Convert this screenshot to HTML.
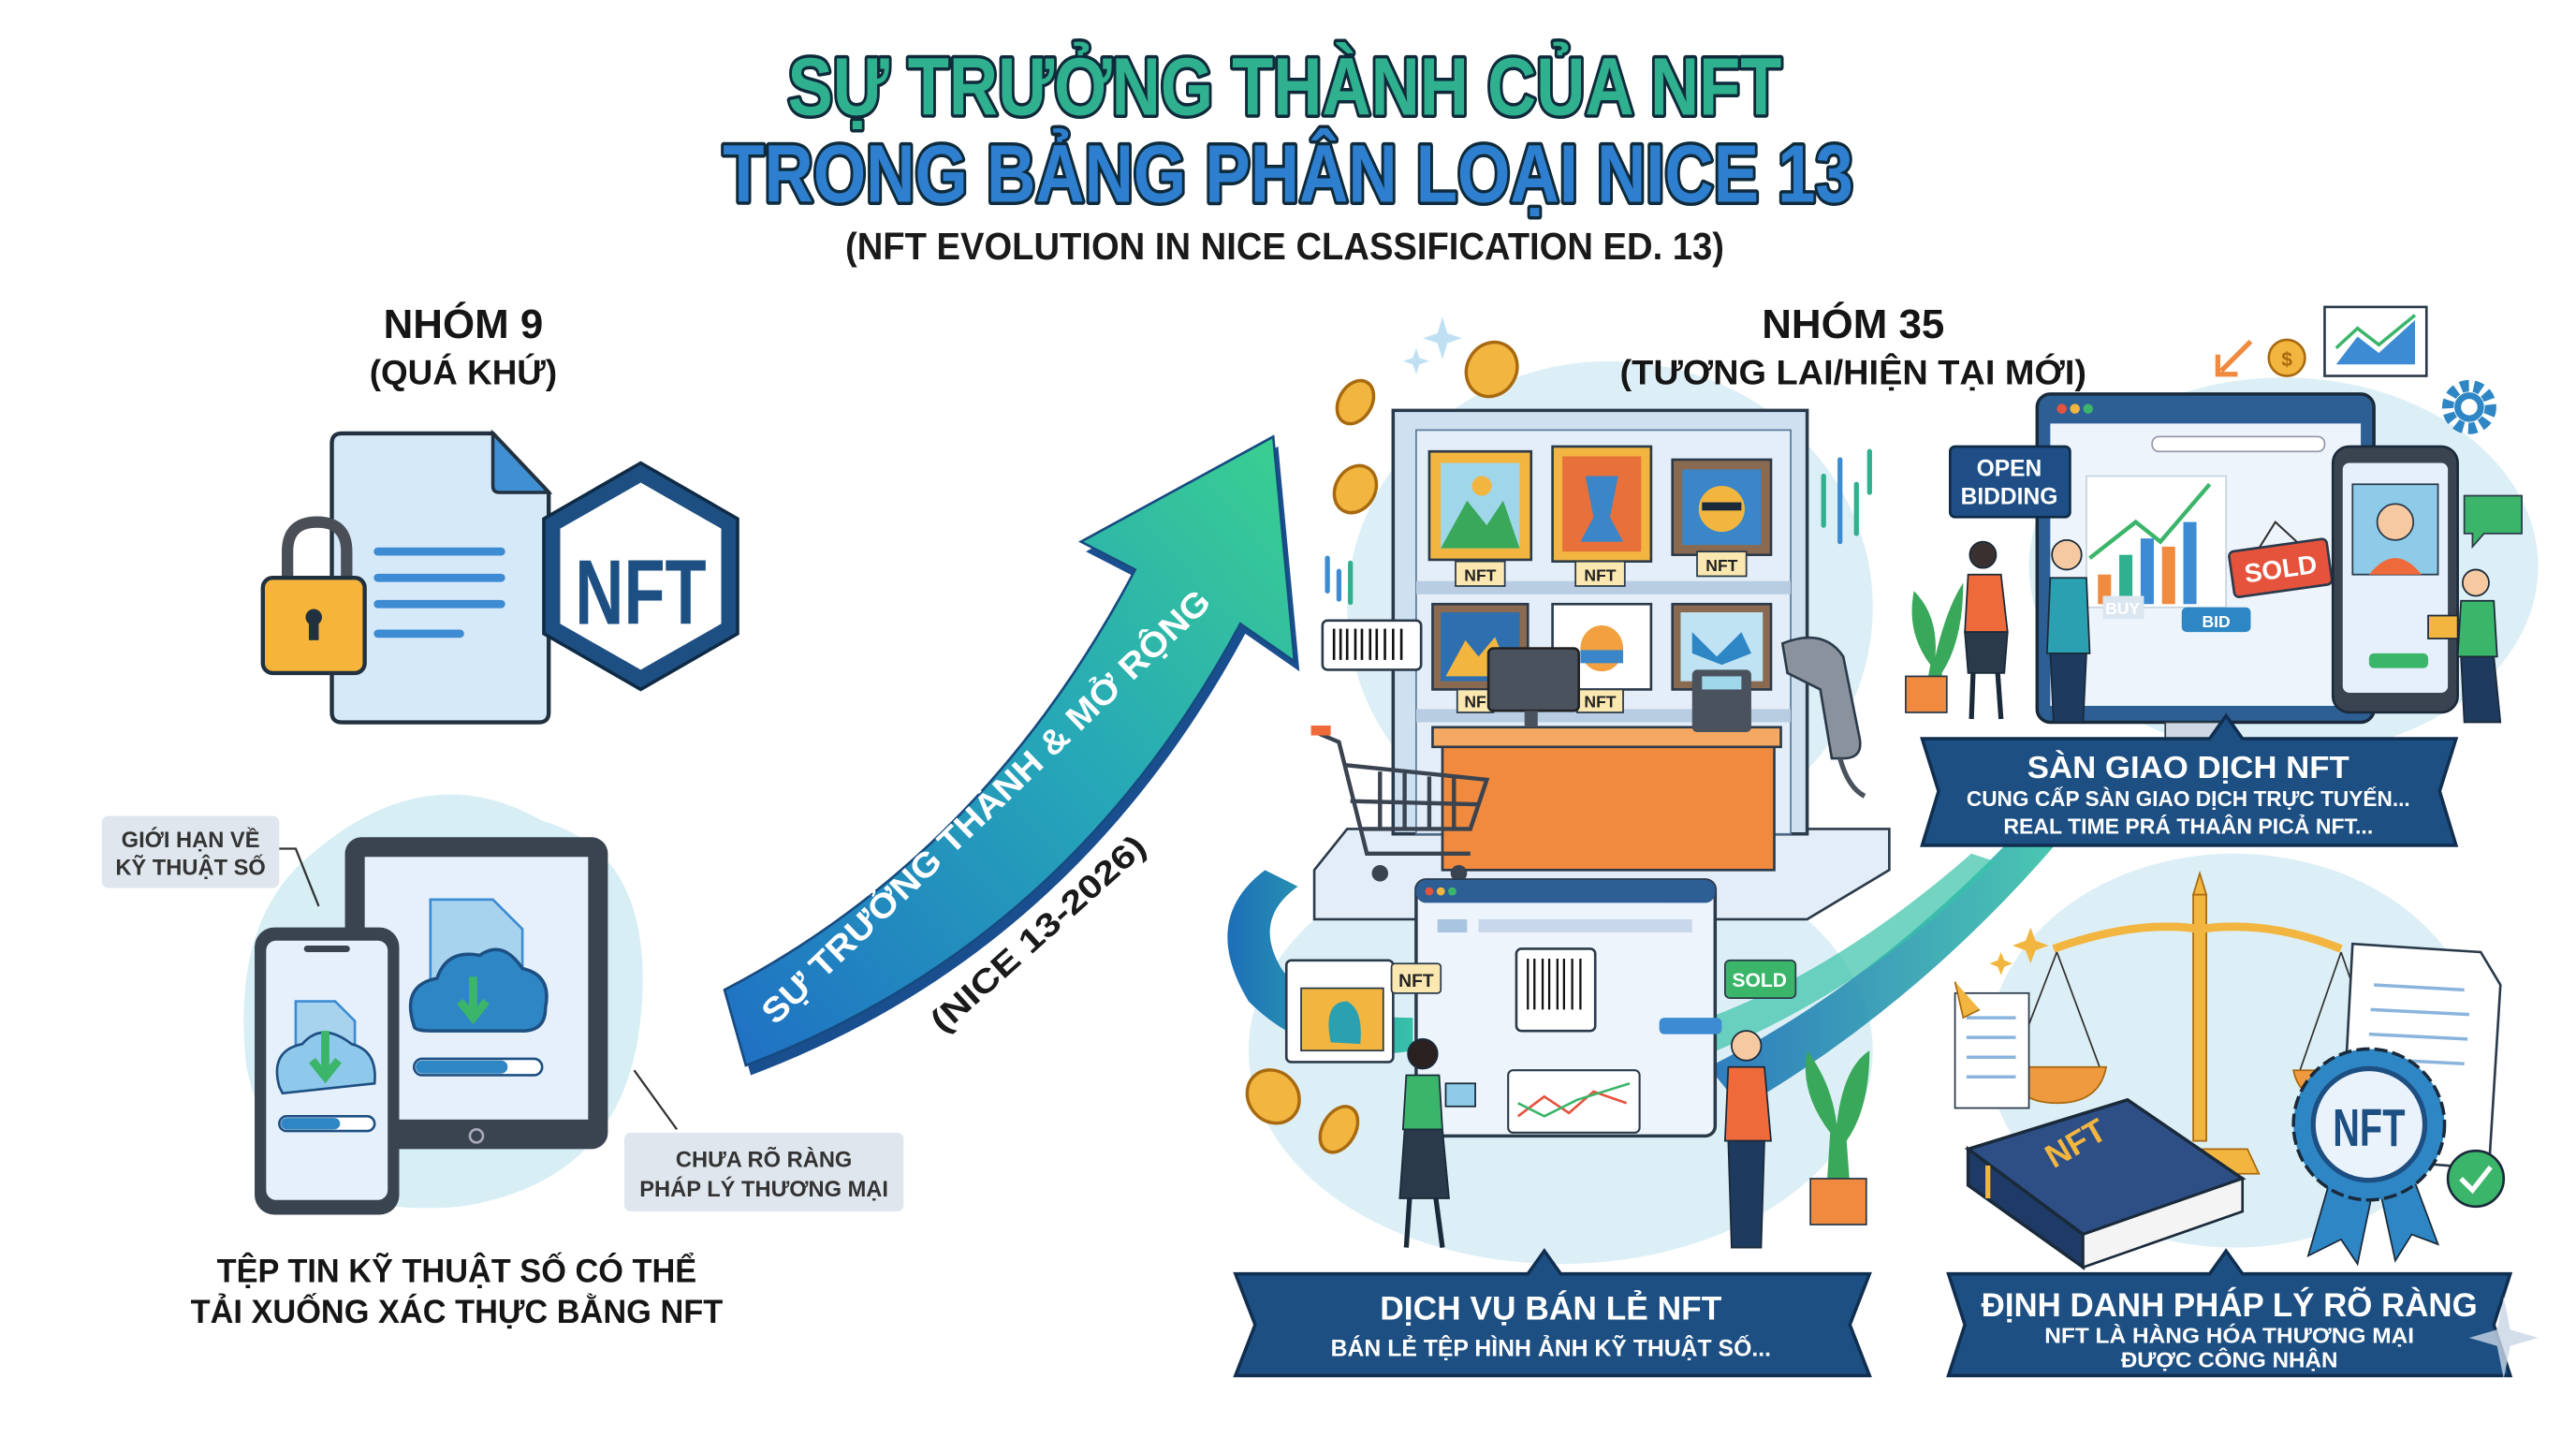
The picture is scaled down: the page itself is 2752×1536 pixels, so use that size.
<!DOCTYPE html>
<html><head><meta charset="utf-8"><style>
html,body{margin:0;padding:0;background:#fff;width:2752px;height:1536px;overflow:hidden}
svg{display:block}
text{font-family:"Liberation Sans","DejaVu Sans",sans-serif}
</style></head><body>
<svg width="2752" height="1536" viewBox="0 0 1568 876" preserveAspectRatio="none" xmlns="http://www.w3.org/2000/svg">
<defs>
<linearGradient id="ag" x1="0" y1="1" x2="1" y2="0"><stop offset="0" stop-color="#1f6fc4"/><stop offset="0.55" stop-color="#26a7b8"/><stop offset="1" stop-color="#3bd08f"/></linearGradient>
<linearGradient id="sw" x1="0" y1="0" x2="1" y2="0"><stop offset="0" stop-color="#1d6fb8"/><stop offset="1" stop-color="#37c2a8"/></linearGradient>
</defs>
<rect width="1568" height="876" fill="#fff"/>

<!-- TITLE -->
<g font-weight="bold" stroke="#0f2a3a" stroke-width="4" paint-order="stroke" stroke-linejoin="round">
<text x="782" y="70" text-anchor="middle" font-size="50" fill="#2fb08e" textLength="605" lengthAdjust="spacingAndGlyphs">SỰ TRƯỞNG THÀNH CỦA NFT</text>
<text x="784" y="123" text-anchor="middle" font-size="50" fill="#2e7fcf" textLength="688" lengthAdjust="spacingAndGlyphs">TRONG BẢNG PHÂN LOẠI NICE 13</text>
</g>
<text x="782" y="158" text-anchor="middle" font-size="23" font-weight="bold" fill="#1a1a1a" textLength="535" lengthAdjust="spacingAndGlyphs">(NFT EVOLUTION IN NICE CLASSIFICATION ED. 13)</text>

<!-- LEFT: NHOM 9 -->
<text x="282" y="206" text-anchor="middle" font-size="25" font-weight="bold" fill="#151515">NHÓM 9</text>
<text x="282" y="234" text-anchor="middle" font-size="21" font-weight="bold" fill="#151515">(QUÁ KHỨ)</text>

<!-- document -->
<path d="M208,264 L300,264 L334,300 L334,434 Q334,440 328,440 L208,440 Q202,440 202,434 L202,270 Q202,264 208,264Z" fill="#d6e9f8" stroke="#22313f" stroke-width="2.5"/>
<path d="M300,264 L300,296 Q300,300 304,300 L334,300Z" fill="#3f8fd2" stroke="#22313f" stroke-width="2"/>
<g stroke="#3d8bd3" stroke-width="5" stroke-linecap="round"><line x1="230" y1="336" x2="305" y2="336"/><line x1="230" y1="352" x2="305" y2="352"/><line x1="230" y1="368" x2="305" y2="368"/><line x1="230" y1="386" x2="280" y2="386"/></g>
<!-- lock -->
<path d="M175,352 L175,336 Q175,318 193,318 Q211,318 211,336 L211,352" fill="none" stroke="#4a4f57" stroke-width="7"/>
<rect x="160" y="352" width="62" height="58" rx="6" fill="#f6b53a" stroke="#22313f" stroke-width="2.5"/>
<circle cx="191" cy="376" r="5" fill="#22313f"/><rect x="188" y="378" width="6" height="12" fill="#22313f"/>
<!-- NFT hexagon -->
<polygon points="390,282 449,316 449,386 390,420 331,386 331,316" fill="#1d4f82" stroke="#0f2a44" stroke-width="2"/>
<polygon points="390,294 439,322 439,380 390,408 341,380 341,322" fill="#fff"/>
<text x="390" y="380" text-anchor="middle" font-size="56" font-weight="bold" fill="#1d4f82" textLength="80" lengthAdjust="spacingAndGlyphs">NFT</text>

<!-- blob & devices -->
<path d="M190,520 Q260,460 330,500 Q400,520 390,620 Q380,720 280,735 Q170,745 150,650 Q140,560 190,520Z" fill="#d6eef4"/>
<rect x="210" y="510" width="160" height="190" rx="10" fill="#3a4350"/>
<rect x="222" y="522" width="136" height="160" fill="#e5f0fb"/>
<circle cx="290" cy="692" r="4" fill="none" stroke="#aab" stroke-width="1.5"/>
<path d="M262,548 L300,548 L318,566 L318,610 L262,610Z" fill="#a8d3ef" stroke="#3d8bd3" stroke-width="1.5"/>
<path d="M252,625 Q244,600 266,596 Q272,578 292,582 Q306,572 318,590 Q336,594 332,614 Q332,628 318,628 L262,628 Q252,628 252,625Z" fill="#2e86c4" stroke="#1d4f82" stroke-width="2"/>
<path d="M288,595 L288,618 M280,610 L288,620 L296,610" stroke="#3bb56a" stroke-width="5" fill="none"/>
<rect x="252" y="645" width="78" height="10" rx="5" fill="#fff" stroke="#1d4f82" stroke-width="1.5"/><rect x="253" y="646" width="56" height="8" rx="4" fill="#2e86c4"/>
<rect x="155" y="565" width="88" height="175" rx="12" fill="#3a4350"/>
<rect x="162" y="573" width="74" height="158" rx="6" fill="#e5f0fb"/>
<rect x="185" y="576" width="28" height="4" rx="2" fill="#3a4350"/>
<path d="M180,610 L204,610 L216,622 L216,650 L180,650Z" fill="#a8d3ef" stroke="#3d8bd3" stroke-width="1.5"/>
<path d="M170,662 Q164,640 184,636 Q196,622 214,636 Q230,640 228,660 L172,666Z" fill="#8ec8ea" stroke="#1d4f82" stroke-width="1.5"/>
<path d="M198,628 L198,654 M190,646 L198,656 L206,646" stroke="#3bb56a" stroke-width="5" fill="none"/>
<rect x="170" y="680" width="58" height="9" rx="4.5" fill="#fff" stroke="#1d4f82" stroke-width="1.5"/><rect x="171" y="681" width="36" height="7" rx="3.5" fill="#2e86c4"/>

<!-- callouts -->
<rect x="62" y="497" width="108" height="44" rx="4" fill="#dfe6ee"/>
<text x="116" y="516" text-anchor="middle" font-size="13.5" font-weight="bold" fill="#333">GIỚI HẠN VỀ</text>
<text x="116" y="533" text-anchor="middle" font-size="13.5" font-weight="bold" fill="#333">KỸ THUẬT SỐ</text>
<path d="M170,517 L180,517 L194,552" stroke="#333" stroke-width="1.3" fill="none"/>
<rect x="380" y="690" width="170" height="48" rx="4" fill="#dfe6ee"/>
<text x="465" y="711" text-anchor="middle" font-size="13.5" font-weight="bold" fill="#333">CHƯA RÕ RÀNG</text>
<text x="465" y="729" text-anchor="middle" font-size="13.5" font-weight="bold" fill="#333">PHÁP LÝ THƯƠNG MẠI</text>
<line x1="386" y1="652" x2="412" y2="688" stroke="#333" stroke-width="1.3"/>
<text x="278" y="781" text-anchor="middle" font-size="20" font-weight="bold" fill="#151515" textLength="292" lengthAdjust="spacingAndGlyphs">TỆP TIN KỸ THUẬT SỐ CÓ THỂ</text>
<text x="278" y="806" text-anchor="middle" font-size="20" font-weight="bold" fill="#151515" textLength="324" lengthAdjust="spacingAndGlyphs">TẢI XUỐNG XÁC THỰC BẰNG NFT</text>

<!-- BIG ARROW -->
<path d="M454,649 Q650,575 755,380 L788,403 L775,266 L658,330 L691,347 Q600,520 441,603Z" fill="#1a4f8f" transform="translate(3,6)"/>
<path d="M454,649 Q650,575 755,380 L788,403 L775,266 L658,330 L691,347 Q600,520 441,603Z" fill="url(#ag)" stroke="#174a80" stroke-width="1.5"/>
<text x="0" y="0" font-size="21" font-weight="bold" fill="#fff" transform="translate(472,625) rotate(-44)" textLength="370" lengthAdjust="spacingAndGlyphs">SỰ TRƯỞNG THÀNH &amp; MỞ RỘNG</text>
<text x="0" y="0" font-size="20" font-weight="bold" fill="#1a1a1a" transform="translate(574,630) rotate(-42)" textLength="168" lengthAdjust="spacingAndGlyphs">(NICE 13-2026)</text>

<!-- blobs -->
<ellipse cx="980" cy="370" rx="160" ry="150" fill="#ddeff6"/>
<ellipse cx="1390" cy="345" rx="155" ry="115" fill="#ddeff6"/>
<ellipse cx="950" cy="640" rx="190" ry="130" fill="#ddeff6"/>
<ellipse cx="1360" cy="640" rx="150" ry="120" fill="#ddeff6"/>

<!-- RIGHT: NHOM 35 -->
<text x="1128" y="206" text-anchor="middle" font-size="25" font-weight="bold" fill="#151515">NHÓM 35</text>
<text x="1128" y="234" text-anchor="middle" font-size="21" font-weight="bold" fill="#151515" textLength="284" lengthAdjust="spacingAndGlyphs">(TƯƠNG LAI/HIỆN TẠI MỚI)</text>

<!-- swooshes -->
<path d="M770,530 Q730,560 760,610 Q800,650 860,640 L860,620 Q800,620 780,590 Q762,560 790,540Z" fill="url(#sw)"/>
<path d="M1040,650 Q1140,600 1230,505 L1255,510 Q1170,610 1060,675Z" fill="url(#sw)" opacity="0.9"/>
<path d="M1040,620 Q1120,590 1200,520 L1215,525 Q1140,600 1045,640Z" fill="#37c2a8" opacity="0.7"/>

<!-- platform -->
<path d="M820,505 L1150,505 L1150,530 L1100,560 L800,560 L800,530Z" fill="#e3edf7" stroke="#2b3a4a" stroke-width="1.5"/>
<!-- shelf -->
<rect x="848" y="250" width="252" height="258" fill="#cfe0f0" stroke="#2b3a4a" stroke-width="2"/>
<rect x="862" y="262" width="228" height="246" fill="#e4eef8" stroke="#5a7a9a" stroke-width="1"/>
<rect x="862" y="354" width="228" height="8" fill="#b8cde2"/>
<rect x="862" y="432" width="228" height="8" fill="#b8cde2"/>
<!-- frames row 1 -->
<rect x="870" y="275" width="62" height="66" fill="#f2b640" stroke="#2b3a4a" stroke-width="1.5"/>
<rect x="877" y="282" width="48" height="52" fill="#9fd6ea"/><path d="M877,334 L893,305 L905,320 L915,305 L925,334Z" fill="#3aa85a"/><circle cx="902" cy="296" r="6" fill="#f2b640"/>
<rect x="945" y="272" width="60" height="70" fill="#f2b640" stroke="#2b3a4a" stroke-width="1.5"/><rect x="951" y="278" width="48" height="58" fill="#e8703a"/><path d="M965,290 L985,290 L980,315 L988,330 L962,330 L970,315Z" fill="#3a86c8"/>
<rect x="1018" y="280" width="60" height="58" fill="#8a6a50" stroke="#2b3a4a" stroke-width="1.5"/><rect x="1024" y="286" width="48" height="46" fill="#3a86c8"/><circle cx="1048" cy="310" r="14" fill="#f2b640"/><rect x="1036" y="306" width="24" height="5" fill="#1a2a3a"/>
<g font-size="10" font-weight="bold" fill="#222" text-anchor="middle">
<rect x="886" y="342" width="30" height="15" fill="#fbe7b0" stroke="#2b3a4a"/><text x="901" y="354">NFT</text>
<rect x="959" y="342" width="30" height="15" fill="#fbe7b0" stroke="#2b3a4a"/><text x="974" y="354">NFT</text>
<rect x="1033" y="336" width="30" height="15" fill="#fbe7b0" stroke="#2b3a4a"/><text x="1048" y="348">NFT</text>
</g>
<!-- frames row 2 -->
<rect x="872" y="368" width="58" height="52" fill="#8a6a50" stroke="#2b3a4a" stroke-width="1.5"/><rect x="877" y="373" width="48" height="42" fill="#2e6fb0"/><path d="M880,412 L892,390 L900,400 L910,388 L920,412Z" fill="#f2b640"/>
<rect x="945" y="368" width="60" height="52" fill="#fff" stroke="#2b3a4a" stroke-width="1.5"/><ellipse cx="975" cy="395" rx="13" ry="14" fill="#f2a040"/><rect x="962" y="396" width="26" height="8" fill="#3a86c8"/>
<rect x="1018" y="368" width="60" height="52" fill="#8a6a50" stroke="#2b3a4a" stroke-width="1.5"/><rect x="1023" y="373" width="50" height="42" fill="#bfe3f2"/><path d="M1030,385 L1045,400 L1060,385 L1066,398 L1048,405 L1030,398Z" fill="#2e86c4"/>
<g font-size="10" font-weight="bold" fill="#222" text-anchor="middle"><rect x="887" y="420" width="22" height="14" fill="#fbe7b0" stroke="#2b3a4a"/><text x="898" y="431">NF</text><rect x="960" y="420" width="28" height="14" fill="#fbe7b0" stroke="#2b3a4a"/><text x="974" y="431">NFT</text></g>
<!-- counter -->
<rect x="872" y="443" width="212" height="12" fill="#f4a862" stroke="#2b3a4a" stroke-width="1.5"/>
<rect x="878" y="455" width="202" height="75" fill="#ef8a3e" stroke="#2b3a4a" stroke-width="1.5"/>
<rect x="906" y="395" width="55" height="38" rx="3" fill="#4a525e" stroke="#222" stroke-width="1.5"/><rect x="928" y="433" width="8" height="10" fill="#4a525e"/>
<rect x="1030" y="408" width="36" height="38" rx="3" fill="#4a525e"/><rect x="1036" y="412" width="24" height="8" fill="#9fd6ea"/>
<!-- scanner -->
<path d="M1085,392 Q1110,382 1122,400 L1132,450 Q1134,462 1122,462 L1115,462 L1108,420 L1088,410Z" fill="#8a929e" stroke="#2b3a4a" stroke-width="1.5"/>
<path d="M1120,462 Q1125,480 1135,485" fill="none" stroke="#4a525e" stroke-width="3"/>
<!-- barcode tag -->
<rect x="805" y="378" width="60" height="30" rx="3" fill="#fff" stroke="#2b3a4a" stroke-width="1.5"/>
<g stroke="#111" stroke-width="1.5"><line x1="812" y1="383" x2="812" y2="402"/><line x1="816" y1="383" x2="816" y2="402"/><line x1="820" y1="383" x2="820" y2="402"/><line x1="825" y1="383" x2="825" y2="402"/><line x1="829" y1="383" x2="829" y2="402"/><line x1="834" y1="383" x2="834" y2="402"/><line x1="838" y1="383" x2="838" y2="402"/><line x1="843" y1="383" x2="843" y2="402"/><line x1="848" y1="383" x2="848" y2="402"/><line x1="853" y1="383" x2="853" y2="402"/></g>
<!-- cart -->
<g fill="none" stroke="#3a4350" stroke-width="2.5"><path d="M803,447 L815,452 L832,520 L895,520"/><path d="M818,466 L905,475 L895,505 L828,505"/><line x1="840" y1="470" x2="840" y2="505"/><line x1="855" y1="471" x2="855" y2="505"/><line x1="870" y1="473" x2="870" y2="505"/><line x1="885" y1="474" x2="885" y2="505"/><line x1="822" y1="488" x2="900" y2="490"/></g>
<circle cx="840" cy="532" r="5" fill="#3a4350"/><circle cx="888" cy="532" r="5" fill="#3a4350"/><rect x="798" y="442" width="12" height="6" fill="#ef6a3a"/>
<!-- coins -->
<g fill="#f2b640" stroke="#a86a10" stroke-width="2">
<ellipse cx="908" cy="225" rx="15" ry="17" transform="rotate(30 908 225)"/><ellipse cx="825" cy="245" rx="10" ry="14" transform="rotate(30 825 245)"/><ellipse cx="825" cy="298" rx="12" ry="15" transform="rotate(30 825 298)"/><ellipse cx="775" cy="668" rx="15" ry="17" transform="rotate(-40 775 668)"/><ellipse cx="815" cy="688" rx="10" ry="15" transform="rotate(30 815 688)"/></g>
<path d="M878,193 L881,203 L890,206 L881,209 L878,219 L875,209 L866,206 L875,203Z" fill="#bfe0f2"/>
<path d="M862,212 L864,218 L870,220 L864,222 L862,228 L860,222 L854,220 L860,218Z" fill="#bfe0f2"/>
<g stroke-width="3" stroke-linecap="round"><line x1="808" y1="340" x2="808" y2="360" stroke="#3d8bd3"/><line x1="815" y1="348" x2="815" y2="365" stroke="#3d8bd3"/><line x1="822" y1="343" x2="822" y2="367" stroke="#2fb08e"/><line x1="1110" y1="290" x2="1110" y2="320" stroke="#2fb08e"/><line x1="1120" y1="280" x2="1120" y2="330" stroke="#3d8bd3"/><line x1="1130" y1="295" x2="1130" y2="325" stroke="#2fb08e"/><line x1="1138" y1="275" x2="1138" y2="300" stroke="#2fb08e"/></g>

<!-- MARKETPLACE -->
<rect x="1240" y="240" width="205" height="200" rx="8" fill="#2d5f95" stroke="#1a2a3a" stroke-width="2"/>
<rect x="1248" y="258" width="189" height="172" fill="#eef4fb"/>
<circle cx="1255" cy="249" r="3" fill="#e5533d"/><circle cx="1263" cy="249" r="3" fill="#f2b640"/><circle cx="1271" cy="249" r="3" fill="#3bb56a"/>
<rect x="1310" y="266" width="105" height="9" rx="4" fill="#fff" stroke="#99a"/>
<rect x="1318" y="440" width="40" height="22" fill="#cfd8e2" stroke="#2b3a4a"/><rect x="1300" y="460" width="80" height="8" rx="3" fill="#b8c4d0" stroke="#2b3a4a"/>
<rect x="1270" y="290" width="85" height="80" fill="#fff" stroke="#c8d4e0"/>
<g><rect x="1277" y="350" width="8" height="18" fill="#ef8a3e"/><rect x="1290" y="338" width="8" height="30" fill="#2fb08e"/><rect x="1303" y="328" width="8" height="40" fill="#3d8bd3"/><rect x="1316" y="333" width="8" height="35" fill="#ef8a3e"/><rect x="1329" y="318" width="8" height="50" fill="#3d8bd3"/></g>
<path d="M1272,340 L1300,318 L1315,330 L1345,295" fill="none" stroke="#3bb56a" stroke-width="2.5"/>
<rect x="1187" y="272" width="73" height="43" rx="3" fill="#1e4e85" stroke="#0f2a44" stroke-width="1.5"/>
<text x="1223" y="290" text-anchor="middle" font-size="14" font-weight="bold" fill="#fff">OPEN</text><text x="1223" y="307" text-anchor="middle" font-size="14" font-weight="bold" fill="#fff">BIDDING</text>
<g transform="rotate(-8 1388 345)"><rect x="1358" y="332" width="60" height="28" rx="3" fill="#e5533d" stroke="#2b3a4a" stroke-width="1.5"/><text x="1388" y="352" text-anchor="middle" font-size="16" font-weight="bold" fill="#fff">SOLD</text></g>
<path d="M1375,334 L1385,318 L1398,330" fill="none" stroke="#333" stroke-width="1.2"/>
<rect x="1280" y="363" width="25" height="14" fill="#dce6f0"/><text x="1292" y="374" text-anchor="middle" font-size="10" fill="#fff" font-weight="bold">BUY</text>
<rect x="1328" y="370" width="42" height="15" rx="3" fill="#2e86c4"/><text x="1349" y="382" text-anchor="middle" font-size="10" fill="#fff" font-weight="bold">BID</text>
<!-- phone -->
<rect x="1420" y="272" width="76" height="162" rx="10" fill="#3a4350" stroke="#1a2a3a" stroke-width="1.5"/>
<rect x="1426" y="282" width="64" height="140" rx="4" fill="#e5f0fb"/>
<rect x="1432" y="295" width="52" height="55" fill="#8ecbe8" stroke="#2b3a4a"/><circle cx="1458" cy="318" r="11" fill="#f6c9a0" stroke="#2b3a4a"/><path d="M1442,350 Q1458,330 1474,350Z" fill="#ef6a3a"/>
<rect x="1442" y="398" width="36" height="9" rx="3" fill="#3bb56a"/>
<!-- gear, chart, coin, bubble -->
<circle cx="1503" cy="248" r="13" fill="none" stroke="#2e86c4" stroke-width="7" stroke-dasharray="5 3"/><circle cx="1503" cy="248" r="7" fill="none" stroke="#2e86c4" stroke-width="4"/>
<rect x="1415" y="187" width="62" height="42" fill="#fff" stroke="#2b3a4a" stroke-width="1.5"/><path d="M1422,222 L1435,205 L1448,215 L1470,195 L1470,222Z" fill="#3d8bd3"/><path d="M1422,212 L1435,200 L1448,210 L1470,192" fill="none" stroke="#3bb56a" stroke-width="2"/>
<circle cx="1392" cy="218" r="11" fill="#f2b640" stroke="#a86a10" stroke-width="1.5"/><text x="1392" y="223" text-anchor="middle" font-size="12" fill="#a86a10" font-weight="bold">$</text>
<path d="M1370,208 L1352,226 M1350,216 L1350,228 L1362,228" stroke="#ef8a3e" stroke-width="3" fill="none"/>
<path d="M1500,302 L1535,302 L1535,325 L1512,325 L1505,333 L1505,325 L1500,325Z" fill="#3bb56a" stroke="#2b3a4a"/>
<!-- people marketplace -->
<g stroke="#1a2a3a" stroke-width="1"><circle cx="1207" cy="338" r="8" fill="#3a3030"/><path d="M1198,350 L1218,350 L1222,385 L1196,385Z" fill="#ef6a3a"/><path d="M1196,385 L1222,385 L1220,410 L1198,410Z" fill="#2b3a4a"/><line x1="1201" y1="410" x2="1200" y2="438" stroke-width="3"/><line x1="1216" y1="410" x2="1218" y2="438" stroke-width="3"/>
<circle cx="1258" cy="338" r="9" fill="#f6c9a0"/><path d="M1248,352 L1270,352 L1272,398 L1246,398Z" fill="#2aa0b0"/><path d="M1248,398 L1270,398 L1268,440 L1250,440Z" fill="#1e3a5f"/>
<circle cx="1507" cy="355" r="8" fill="#f6c9a0"/><path d="M1498,366 L1518,366 L1520,400 L1496,400Z" fill="#3bb56a"/><path d="M1498,400 L1518,400 L1522,440 L1500,440Z" fill="#1e3a5f"/><rect x="1478" y="375" width="18" height="14" fill="#f2b640"/></g>
<path d="M1170,432 L1175,405 Q1160,385 1165,360 Q1180,375 1178,400 Q1185,370 1195,355 Q1195,390 1182,410 L1185,432Z" fill="#3aa85a"/><rect x="1160" y="412" width="25" height="22" fill="#ef8a3e" stroke="#2b3a4a"/>

<!-- Banner: San giao dich -->
<path d="M1170,450 L1345,450 L1355,436 L1365,450 L1495,450 L1485,482 L1495,515 L1170,515 L1180,482Z" fill="#1d4f82" stroke="#102e50" stroke-width="2"/>
<text x="1332" y="474" text-anchor="middle" font-size="19" font-weight="bold" fill="#fff" textLength="196" lengthAdjust="spacingAndGlyphs">SÀN GIAO DỊCH NFT</text>
<text x="1332" y="491" text-anchor="middle" font-size="13" font-weight="bold" fill="#fff" textLength="270" lengthAdjust="spacingAndGlyphs">CUNG CẤP SÀN GIAO DỊCH TRỰC TUYẾN...</text>
<text x="1332" y="508" text-anchor="middle" font-size="13" font-weight="bold" fill="#fff" textLength="225" lengthAdjust="spacingAndGlyphs">REAL TIME PRÁ THAÂN PICẢ NFT...</text>

<!-- RETAIL BROWSER -->
<rect x="862" y="536" width="182" height="156" rx="6" fill="#eef4fb" stroke="#2b3a4a" stroke-width="2"/>
<rect x="862" y="536" width="182" height="14" rx="6" fill="#2d5f95"/>
<circle cx="870" cy="543" r="2.5" fill="#e5533d"/><circle cx="877" cy="543" r="2.5" fill="#f2b640"/><circle cx="884" cy="543" r="2.5" fill="#3bb56a"/>
<rect x="875" y="560" width="18" height="8" fill="#a8c4e0"/><rect x="900" y="560" width="130" height="8" fill="#c8d8ea"/>
<rect x="923" y="578" width="48" height="50" rx="3" fill="#fff" stroke="#2b3a4a" stroke-width="1.5"/>
<g stroke="#111" stroke-width="1.3"><line x1="930" y1="584" x2="930" y2="615"/><line x1="934" y1="584" x2="934" y2="615"/><line x1="939" y1="584" x2="939" y2="615"/><line x1="943" y1="584" x2="943" y2="615"/><line x1="948" y1="584" x2="948" y2="615"/><line x1="952" y1="584" x2="952" y2="615"/><line x1="957" y1="584" x2="957" y2="615"/><line x1="962" y1="584" x2="962" y2="615"/></g>
<rect x="918" y="652" width="80" height="38" rx="3" fill="#fff" stroke="#2b3a4a" stroke-width="1.2"/><path d="M924,680 L940,668 L955,678 L970,665 L990,672" fill="none" stroke="#e5533d" stroke-width="1.5"/><path d="M924,672 L940,680 L960,670 L992,660" fill="none" stroke="#3bb56a" stroke-width="1.5"/>
<rect x="1010" y="620" width="38" height="10" rx="3" fill="#3d8bd3"/>
<rect x="1050" y="585" width="43" height="23" rx="3" fill="#3bb56a" stroke="#2b3a4a"/><text x="1071" y="601" text-anchor="middle" font-size="12" font-weight="bold" fill="#fff">SOLD</text>
<rect x="783" y="585" width="65" height="62" rx="3" fill="#fff" stroke="#2b3a4a" stroke-width="1.5"/><rect x="792" y="602" width="50" height="38" fill="#f2b640" stroke="#2b3a4a"/><path d="M810,635 Q805,610 820,610 Q830,615 828,636Z" fill="#2aa0b0"/>
<rect x="847" y="587" width="30" height="18" rx="2" fill="#fbe7b0" stroke="#2b3a4a"/><text x="862" y="601" text-anchor="middle" font-size="11" font-weight="bold" fill="#222">NFT</text>
<!-- retail people -->
<g stroke="#1a2a3a" stroke-width="1"><circle cx="866" cy="642" r="9" fill="#2a2020"/><path d="M856,655 L876,655 L878,688 L854,688Z" fill="#3bb56a"/><path d="M855,688 L878,688 L882,730 L852,730Z" fill="#2b3a4a"/><line x1="858" y1="730" x2="856" y2="760" stroke-width="3"/><line x1="874" y1="730" x2="878" y2="760" stroke-width="3"/><rect x="880" y="660" width="18" height="14" fill="#8ecbe8"/>
<circle cx="1063" cy="637" r="9" fill="#f6c9a0"/><path d="M1052,650 L1074,650 L1078,695 L1050,695Z" fill="#ef6a3a"/><path d="M1052,695 L1074,695 L1072,760 L1054,760Z" fill="#1e3a5f"/></g>
<path d="M1112,722 L1114,690 Q1095,665 1100,640 Q1115,660 1118,685 Q1122,650 1138,640 Q1138,675 1124,695 L1126,722Z" fill="#3aa85a"/><rect x="1102" y="718" width="34" height="28" fill="#ef8a3e" stroke="#2b3a4a"/>

<!-- Banner: Dich vu ban le -->
<path d="M752,776 L930,776 L940,762 L950,776 L1138,776 L1126,807 L1138,838 L752,838 L764,807Z" fill="#1d4f82" stroke="#102e50" stroke-width="2"/>
<text x="944" y="804" text-anchor="middle" font-size="20" font-weight="bold" fill="#fff" textLength="208" lengthAdjust="spacingAndGlyphs">DỊCH VỤ BÁN LẺ NFT</text>
<text x="944" y="826" text-anchor="middle" font-size="14" font-weight="bold" fill="#fff" textLength="268" lengthAdjust="spacingAndGlyphs">BÁN LẺ TỆP HÌNH ẢNH KỸ THUẬT SỐ...</text>

<!-- LEGAL -->
<rect x="1335" y="545" width="8" height="150" fill="#f2b640" stroke="#a86a10"/>
<path d="M1339,532 L1343,545 L1335,545Z" fill="#f2b640" stroke="#a86a10"/>
<path d="M1250,578 Q1300,560 1339,566 Q1380,560 1425,578" fill="none" stroke="#f2b640" stroke-width="5"/>
<g stroke="#333" stroke-width="1"><line x1="1252" y1="580" x2="1225" y2="650"/><line x1="1252" y1="580" x2="1278" y2="650"/><line x1="1425" y1="580" x2="1400" y2="652"/><line x1="1425" y1="580" x2="1450" y2="652"/></g>
<path d="M1222,650 L1282,650 Q1278,672 1252,672 Q1226,672 1222,650Z" fill="#ef9a3e" stroke="#a86a10"/>
<path d="M1396,652 L1454,652 Q1450,672 1425,672 Q1400,672 1396,652Z" fill="#ef9a3e" stroke="#a86a10"/>
<path d="M1310,700 L1368,700 L1375,715 L1303,715Z" fill="#f2b640" stroke="#a86a10"/>
<path d="M1432,575 L1510,580 L1522,600 L1515,712 L1425,705Z" fill="#fff" stroke="#2b3a4a" stroke-width="1.5"/>
<g stroke="#8ab4dc" stroke-width="2"><line x1="1445" y1="600" x2="1500" y2="603"/><line x1="1443" y1="615" x2="1503" y2="618"/><line x1="1442" y1="630" x2="1502" y2="633"/><line x1="1441" y1="645" x2="1500" y2="648"/></g>
<rect x="1190" y="605" width="45" height="70" fill="#fff" stroke="#2b3a4a"/><g stroke="#8ab4dc" stroke-width="2"><line x1="1197" y1="620" x2="1227" y2="620"/><line x1="1197" y1="632" x2="1227" y2="632"/><line x1="1197" y1="644" x2="1227" y2="644"/><line x1="1197" y1="656" x2="1227" y2="656"/></g>
<path d="M1190,598 L1195,620 L1205,615" fill="#f2b640" stroke="#a86a10"/>
<!-- book -->
<path d="M1198,700 L1295,670 L1365,718 L1268,752Z" fill="#2d4f85" stroke="#1a2a3a" stroke-width="2"/>
<path d="M1198,700 L1268,752 L1268,772 L1198,722Z" fill="#1e3a66" stroke="#1a2a3a" stroke-width="2"/>
<path d="M1268,752 L1365,718 L1365,738 L1268,772Z" fill="#f4f4f4" stroke="#1a2a3a" stroke-width="1.5"/>
<text x="0" y="0" font-size="20" font-weight="bold" fill="#f2b640" transform="translate(1250,712) rotate(-30)">NFT</text>
<line x1="1210" y1="710" x2="1210" y2="730" stroke="#f2b640" stroke-width="3"/>
<!-- badge -->
<path d="M1418,720 L1405,765 L1425,755 L1435,770 L1445,722Z" fill="#2e86c4" stroke="#1a2a3a"/>
<path d="M1448,722 L1458,768 L1468,752 L1484,758 L1468,715Z" fill="#2e86c4" stroke="#1a2a3a"/>
<circle cx="1442" cy="685" r="46" fill="#2e86c4" stroke="#1a2a3a" stroke-width="2" stroke-dasharray="8 3"/>
<circle cx="1442" cy="685" r="34" fill="#eaf3fb" stroke="#1d4f82" stroke-width="3"/>
<text x="1442" y="698" text-anchor="middle" font-size="32" font-weight="bold" fill="#1d4f82" textLength="44" lengthAdjust="spacingAndGlyphs">NFT</text>
<circle cx="1507" cy="718" r="17" fill="#3bb56a" stroke="#1a2a3a" stroke-width="1.5"/><path d="M1498,718 L1505,725 L1516,711" fill="none" stroke="#fff" stroke-width="3"/>
<path d="M1236,565 L1239,573 L1247,576 L1239,579 L1236,587 L1233,579 L1225,576 L1233,573Z" fill="#f2b640"/>
<path d="M1218,580 L1220,585 L1225,587 L1220,589 L1218,594 L1216,589 L1211,587 L1216,585Z" fill="#f2b640"/>

<!-- Banner: Dinh danh -->
<path d="M1186,776 L1345,776 L1355,762 L1365,776 L1528,776 L1518,807 L1528,838 L1186,838 L1196,807Z" fill="#1d4f82" stroke="#102e50" stroke-width="2"/>
<text x="1357" y="802" text-anchor="middle" font-size="20" font-weight="bold" fill="#fff" textLength="302" lengthAdjust="spacingAndGlyphs">ĐỊNH DANH PHÁP LÝ RÕ RÀNG</text>
<text x="1357" y="818" text-anchor="middle" font-size="13" font-weight="bold" fill="#fff" textLength="225" lengthAdjust="spacingAndGlyphs">NFT LÀ HÀNG HÓA THƯƠNG MẠI</text>
<text x="1357" y="833" text-anchor="middle" font-size="13" font-weight="bold" fill="#fff" textLength="132" lengthAdjust="spacingAndGlyphs">ĐƯỢC CÔNG NHẬN</text>
<path d="M1524,790 L1528,810 L1545,815 L1528,820 L1524,840 L1520,820 L1503,815 L1520,810Z" fill="#c9d6e6" opacity="0.8"/>
</svg>
</body></html>
